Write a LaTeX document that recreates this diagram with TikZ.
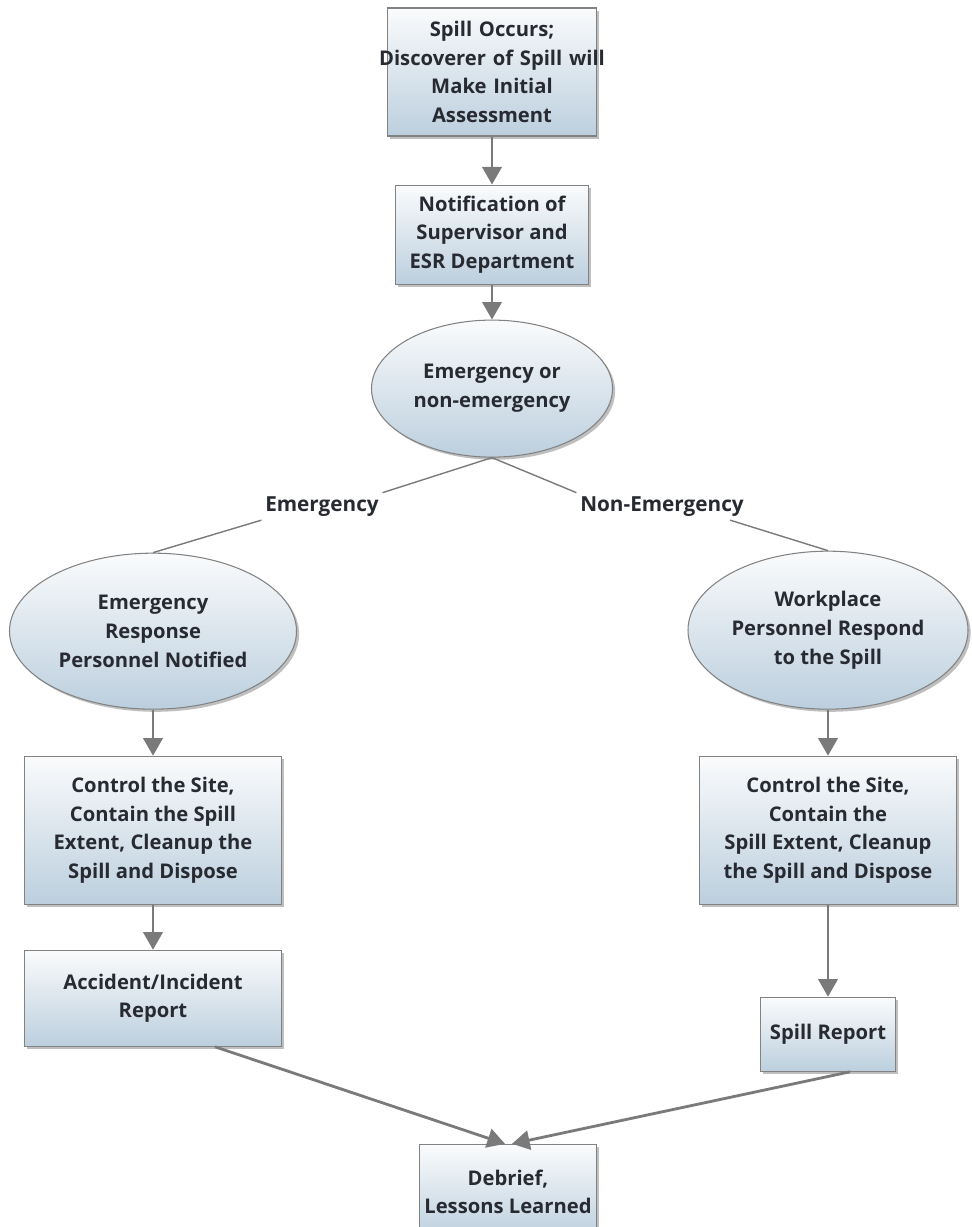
\documentclass[tikz,border=0pt]{standalone}
\usepackage{fontspec}
\setmainfont{Open Sans}
\usetikzlibrary{arrows.meta, positioning, shapes.geometric, shadows}
\definecolor{borda}{RGB}{130, 130, 130}
\definecolor{cinza}{RGB}{122, 122, 122}
\definecolor{topo}{RGB}{250, 251, 252}
\definecolor{fundo}{RGB}{188, 207, 222}
\definecolor{texto}{RGB}{40, 42, 50}
\tikzset{
  caixa/.style={
    draw=borda, line width=0.6pt, top color=topo, bottom color=fundo,
    drop shadow={shadow xshift=1.5pt, shadow yshift=-1.5pt, fill=black!50, opacity=0.5},
    font=\bfseries\fontsize{11.5}{16.4}\selectfont, text=texto, align=center, inner sep=1pt
  },
  elipse/.style={caixa, ellipse, inner sep=0pt},
  rotulo/.style={font=\bfseries\fontsize{11.8}{13}\selectfont, text=texto, inner sep=2pt},
  seta/.style={-{Triangle[length=10pt, width=11pt]}, line width=1.6pt, cinza},
  ramo/.style={line width=0.8pt, cinza},
}
\begin{document}
\begin{tikzpicture}
  \useasboundingbox (0,0) rectangle (19.42,-24.54);

  \node[caixa, minimum width=4.18cm, minimum height=2.56cm, text width=4.0cm] (spill) at (9.84,-1.44)
    {Spill Occurs;\\\makebox[3.9cm][c]{Discoverer of Spill will}\\Make Initial\\Assessment};
  \node[caixa, minimum width=3.86cm, minimum height=1.98cm, below=0.96cm of spill] (notif)
    {Notification of\\Supervisor and\\ESR Department};
  \node[elipse, minimum width=4.82cm, minimum height=2.74cm, below=0.70cm of notif] (dec)
    {Emergency or\\non-emergency};

  \node[rotulo, below=0.7cm of dec, xshift=-3.4cm] (em) {Emergency};
  \node[rotulo, below=0.7cm of dec, xshift=3.4cm]  (nem) {Non-Emergency};

  \node[elipse, minimum width=5.74cm, minimum height=3.12cm, below=1.9cm of dec, xshift=-6.78cm] (erp)
    {Emergency\\Response\\Personnel Notified};
  \node[elipse, minimum width=5.6cm, minimum height=3.16cm, below=1.86cm of dec, xshift=6.72cm] (wpr)
    {Workplace\\Personnel Respond\\to the Spill};

  \node[caixa, minimum width=5.14cm, minimum height=2.96cm, below=0.92cm of erp] (ctlA)
    {Control the Site,\\Contain the Spill\\Extent, Cleanup the\\Spill and Dispose};
  \node[caixa, minimum width=5.14cm, minimum height=2.96cm, below=0.92cm of wpr] (ctlB)
    {Control the Site,\\Contain the\\Spill Extent, Cleanup\\the Spill and Dispose};

  \node[caixa, minimum width=5.14cm, minimum height=1.92cm, below=0.9cm of ctlA] (acc)
    {Accident/Incident\\Report};
  \node[caixa, minimum width=2.7cm, minimum height=1.48cm, below=1.84cm of ctlB] (rep)
    {Spill Report};

  \node[caixa, minimum width=3.54cm, minimum height=1.9cm, below=1.94cm of acc, xshift=7.1cm] (deb)
    {Debrief,\\Lessons Learned};

  \draw[seta] (spill) -- (notif);
  \draw[seta] (notif) -- (dec);
  \draw[ramo] (dec.south) -- (em.north east);
  \draw[ramo] (dec.south) -- (nem.north west);
  \draw[ramo] (em.south west) -- (erp.north);
  \draw[ramo] ([xshift=-0.35cm]nem.south east) -- (wpr.north);
  \draw[seta] (erp) -- (ctlA);
  \draw[seta] (wpr) -- (ctlB);
  \draw[seta] (ctlA) -- (acc);
  \draw[seta] (ctlB) -- (rep);
  \draw[seta] ([xshift=1.24cm]acc.south) -- ([xshift=-0.06cm]deb.north);
  \draw[seta] ([xshift=0.44cm]rep.south) -- ([xshift=0.08cm]deb.north);
\end{tikzpicture}
\end{document}
